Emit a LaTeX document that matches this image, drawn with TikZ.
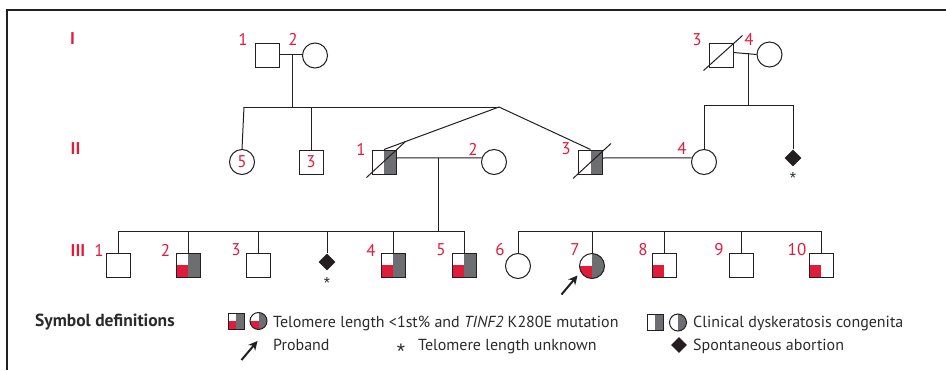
\documentclass[tikz,border=0pt]{standalone}
\usepackage{fontspec}
\setmainfont{PT Sans}
\newfontfamily\starfont{Liberation Sans}
\usetikzlibrary{shapes.geometric,arrows.meta,calc}
\definecolor{redc}{HTML}{E31B3B}
\definecolor{greyc}{HTML}{6D6E71}
\definecolor{linec}{HTML}{231F20}
\definecolor{txtc}{HTML}{2B2B2B}
\begin{document}
\begin{tikzpicture}[x=1pt,y=-1pt,
  lw/.style={line width=1pt, draw=linec},
  male/.style={rectangle, lw, minimum size=24pt, inner sep=0pt, fill=white},
  female/.style={circle, lw, minimum size=25pt, inner sep=0pt, fill=white},
  dc/.style={path picture={\fill[greyc] (path picture bounding box.north) rectangle (path picture bounding box.south east);}},
  tel/.style={path picture={\fill[redc] (path picture bounding box.west) rectangle (path picture bounding box.south);}},
  both/.style={path picture={\fill[greyc] (path picture bounding box.north) rectangle (path picture bounding box.south east);\fill[redc] (path picture bounding box.west) rectangle (path picture bounding box.south);}},
  abort/.style={diamond, fill=linec, minimum size=17pt, inner sep=0pt},
  num/.style={text=redc, font=\fontsize{17}{17}\selectfont, inner sep=0pt},
  gen/.style={text=redc, font=\fontsize{17}{17}\selectfont\bfseries, inner sep=0pt},
  leg/.style={text=txtc, font=\fontsize{16}{17}\selectfont, inner sep=0pt, anchor=base west},
  star/.style={text=txtc, font=\fontsize{16}{16}\starfont, inner sep=0pt, anchor=base},
  conn/.style={lw},
  parr/.style={line width=2pt, draw=linec, -{Stealth[length=9pt,width=9pt]}}
]
\useasboundingbox (0,0) rectangle (946,370);
\fill[white] (0,0) rectangle (946,370);
% frame
\draw[line width=1.2pt, draw=linec] (7,370) -- (7,10) -- (946,10);

% generation labels
\node[gen] (gI) at (72.5,39) {I};
\node[gen] (gII) at (75.5,149) {II};
\node[gen] (gIII) at (78,251) {III};

% Generation I
\node[male] (I1) at (267,55) {};
\node[female] (I2) at (315,55.5) {};
\node[male] (I3) at (721,55) {};
\node[female] (I4) at (769.5,54.5) {};
\draw[conn] ($(I3.south west)+(-5,3)$) -- ($(I3.north east)+(9,-7)$);
\node[num] (l11) at (243,39) {1};
\node[num] (l12) at (293,39) {2};
\node[num] (l13) at (697,40) {3};
\node[num] (l14) at (749,39) {4};

\coordinate (m1) at (292,54);
\coordinate (m2) at (748,52.5);
\draw[conn] (I1.east |- m1) -- (I2.west |- m1);
\draw[conn] (I3.east |- m2) -- (I4.180);
\coordinate (s1l) at (244,107);
\coordinate (tw) at (499,107);
\coordinate (s1m) at (292,107);
\coordinate (s1a) at (311,107);
\draw[conn] (m1) -- (s1m);
\draw[conn] (s1l) -- (tw);

% Generation II
\node[female, text=redc, font=\fontsize{17}{17}\selectfont] (II5) at (242,162) {5};
\node[male, text=redc, font=\fontsize{17}{17}\selectfont] (II3b) at (311,162) {3};
\draw[conn] (s1l) -- (II5.north);
\draw[conn] (s1a) -- (II3b.north);

\node[male, dc] (II1) at (384,162) {};
\node[female] (II2) at (494,162) {};
\node[male, dc] (II3) at (590.5,162) {};
\node[female] (II4) at (704,162) {};
\node[abort] (IIab) at (793,158) {};
\node[star] (st1) at (793,183) {*};
\draw[conn] ($(II1.south west)+(-5,3)$) -- ($(II1.north east)+(9,-8)$);
\draw[conn] ($(II3.south west)+(-5,4)$) -- ($(II3.north east)+(8,-6)$);
\draw[conn] (tw) -- (II1.north);
\draw[conn] (tw) -- (II3.north);
\node[num] (l21) at (361,149) {1};
\node[num] (l22) at (473,149) {2};
\node[num] (l23) at (566,149) {3};
\node[num] (l24) at (682,148) {4};

\coordinate (m2b) at (748,105);
\coordinate (s2l) at (704,105);
\coordinate (s2r) at (793,105);
\draw[conn] (m2) -- (m2b);
\draw[conn] (s2l) -- (s2r);
\draw[conn] (s2l) -- (II4.north);
\draw[conn] (s2r) -- (IIab.north);

\coordinate (m3) at (438,158);
\draw[conn] (II1.east |- m3) -- (II2.161);
\draw[conn] (II3.east |- m3) -- (II4.161);

% Generation III
\coordinate (s3m) at (438,231);
\draw[conn] (m3) -- (s3m);
\node[male] (III1) at (118,265) {};
\node[male, both] (III2) at (188,265) {};
\node[male] (III3) at (258,265) {};
\node[abort] (IIIab) at (327,262) {};
\node[star] (st2) at (327,288) {*};
\node[male, both] (III4) at (393,265) {};
\node[male, both] (III5) at (464,265) {};
\coordinate (s3l) at (118,231);
\coordinate (s3r) at (464,231);
\draw[conn] (s3l) -- (s3r);
\foreach \n in {III1,III2,III3,IIIab,III4,III5}{
  \draw[conn] (\n.north |- s3l) -- (\n.north);
}
\node[num] (l31) at (99,250) {1};
\node[num] (l32) at (165.5,250) {2};
\node[num] (l33) at (236,250) {3};
\node[num] (l34) at (371,250) {4};
\node[num] (l35) at (441,250) {5};

\node[female] (III6) at (518,266) {};
\node[female, both] (III7) at (592,266) {};
\node[male, tel] (III8) at (664,265) {};
\node[male] (III9) at (741,265) {};
\node[male, tel] (III10) at (821,265) {};
\coordinate (s4l) at (518,231);
\coordinate (s4r) at (821,231);
\draw[conn] (s4l) -- (s4r);
\foreach \n in {III6,III7,III8,III9,III10}{
  \draw[conn] (\n.north |- s4l) -- (\n.north);
}
\node[num] (l36) at (500,250) {6};
\node[num] (l37) at (575,250) {7};
\node[num] (l38) at (643,250) {8};
\node[num] (l39) at (719,250) {9};
\node[num] (l310) at (797,250) {10};

\coordinate (pt) at (561.5,294.5);
\coordinate (ph) at (577.5,275.5);
\draw[parr] (pt) -- (ph);

% Legend
\node[text=txtc, font=\fontsize{17.5}{18}\selectfont\bfseries, inner sep=0pt, anchor=base west] (sd) at (35,326) {Symbol definitions};
\node[male, both, minimum size=16pt] (lg1) at (236,321) {};
\node[female, both, minimum size=17pt] (lg2) at (258.5,321) {};
\node[leg] (lt1) at (273,327) {Telomere length <1st\% and \textit{TINF2} K280E mutation};
\coordinate (lat) at (241.5,360);
\coordinate (lah) at (257.5,341);
\draw[parr] (lat) -- (lah);
\node[leg] (lt2) at (273,350) {Proband};
\node[star, font=\fontsize{21}{21}\starfont] (lst) at (401,358) {*};
\node[leg] (lt3) at (418,350) {Telomere length unknown};
\node[male, dc, minimum size=16pt] (lg3) at (655,322) {};
\node[female, dc, minimum size=17pt] (lg4) at (678,322.5) {};
\node[leg] (lt4) at (693,327) {Clinical dyskeratosis congenita};
\node[abort, minimum size=16pt] (lg5) at (679,345) {};
\node[leg] (lt5) at (693,350) {Spontaneous abortion};
\end{tikzpicture}
\end{document}
